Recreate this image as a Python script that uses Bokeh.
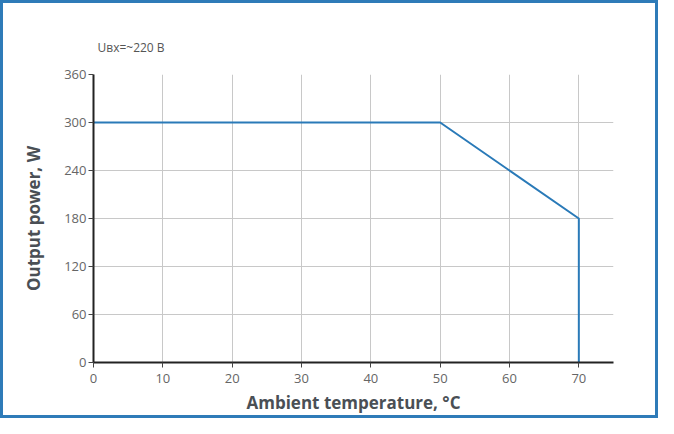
from bokeh.plotting import figure
from bokeh.models import FixedTicker, Range1d, Title
from bokeh.embed import file_html
from bokeh.resources import INLINE

temperature = [0, 50, 70, 70]
power = [300, 300, 180, 0]
x_ticks = [0, 10, 20, 30, 40, 50, 60, 70]
y_ticks = [0, 60, 120, 180, 240, 300, 360]
note_text = "Uвх=~220 В"

FONT = "Open Sans"
p = figure(width=658, height=418, output_backend="svg", toolbar_location=None,
           x_range=Range1d(0, 75), y_range=Range1d(0, 360),
           min_border_left=93, min_border_right=45, min_border_top=74, min_border_bottom=56)
p.outline_line_color = None
p.background_fill_color = "white"
p.border_fill_alpha = 0
p.styles = {"box-shadow": "inset 0 0 0 3px #2e7bb8", "background-color": "white"}

p.title = Title(text=note_text, align="left", offset=4, standoff=38,
                text_font=FONT, text_font_size="12px", text_font_style="normal",
                text_color="#555555")

p.line(temperature, power, line_color="#2a7ab8", line_width=2)

for ax in (p.xaxis[0], p.yaxis[0]):
    ax.axis_line_color = "#222222"
    ax.axis_line_width = 2
    ax.major_tick_line_color = "#444444"
    ax.major_tick_out = 5
    ax.major_tick_in = 0
    ax.minor_tick_line_color = None
    ax.major_label_text_font = FONT
    ax.major_label_text_font_size = "13px"
    ax.major_label_text_color = "#666666"
    ax.axis_label_text_font = FONT
    ax.axis_label_text_font_style = "bold"
    ax.axis_label_text_font_size = "17px"
    ax.axis_label_text_color = "#4a4f55"

p.xaxis.ticker = FixedTicker(ticks=x_ticks)
p.yaxis.ticker = FixedTicker(ticks=y_ticks)
p.xaxis.axis_label = "Ambient temperature, °C"
p.yaxis.axis_label = "Output power, W"
p.xaxis.axis_label_standoff = 5
p.yaxis.axis_label_standoff = 16
p.yaxis.major_label_standoff = 2
p.xaxis.major_label_standoff = 6

p.xgrid.ticker = FixedTicker(ticks=x_ticks)
p.ygrid.ticker = FixedTicker(ticks=y_ticks)
p.xgrid.grid_line_color = "#c8c8c8"
p.ygrid.grid_line_color = "#c8c8c8"

open("out.html", "w").write(file_html(p, INLINE))
